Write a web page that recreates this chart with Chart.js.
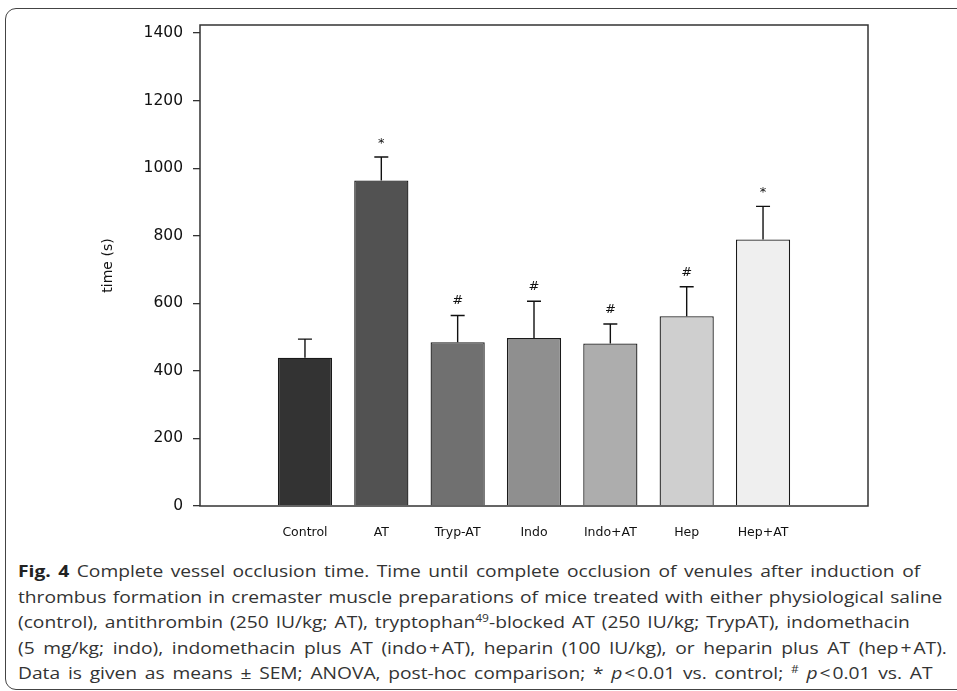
<!DOCTYPE html>
<html>
<head>
<meta charset="utf-8">
<script src="https://cdn.jsdelivr.net/npm/chart.js@4.4.0/dist/chart.umd.min.js"></script>
<style>
  html, body { margin: 0; padding: 0; background: #fff; }
  body { width: 957px; height: 691px; position: relative; overflow: hidden; }
  #frame {
    position: absolute; left: 5px; top: 8px; width: 1000px; height: 682px;
    border: 1.3px solid #444; border-radius: 11px 0 0 11px; box-sizing: border-box;
  }
  #wrap { position: absolute; left: 0; top: 0; width: 957px; height: 545px; }
  #caption {
    position: absolute; left: 18px; top: 559px;
    font-family: "Open Sans", sans-serif; font-size: 16px; line-height: 25.5px; color: #333;
    transform: scaleX(1.2); transform-origin: left top;
  }
  #caption .ln { white-space: nowrap; }
  #caption b { color: #222; }
  #caption sup { font-size: 10px; line-height: 0; vertical-align: 6px; }
</style>
</head>
<body>
<div id="frame"></div>
<div id="wrap"><canvas id="occlusion"></canvas></div>
<div id="caption">
  <div class="ln" data-w="902"><b>Fig. 4</b> Complete vessel occlusion time. Time until complete occlusion of venules after induction of</div>
  <div class="ln" data-w="924">thrombus formation in cremaster muscle preparations of mice treated with either physiological saline</div>
  <div class="ln" data-w="892">(control), antithrombin (250 IU/kg; AT), tryptophan<sup>49</sup>-blocked AT (250 IU/kg; TrypAT), indomethacin</div>
  <div class="ln" data-w="929">(5 mg/kg; indo), indomethacin plus AT (indo&#8202;+&#8202;AT), heparin (100 IU/kg), or heparin plus AT (hep&#8202;+&#8202;AT).</div>
  <div class="ln" data-w="915">Data is given as means ± SEM; ANOVA, post-hoc comparison; * <i>p</i>&#8202;&lt;&#8202;0.01 vs. control; <sup>#</sup> <i>p</i>&#8202;&lt;&#8202;0.01 vs. AT</div>
</div>
<script>
// data
var categories = ['Control', 'AT', 'Tryp-AT', 'Indo', 'Indo+AT', 'Hep', 'Hep+AT'];
var meanTime = [439, 964, 485, 497, 481, 562, 789];
var semTime = [55, 69, 79, 109, 58, 87, 98];
var signif = ['', '*', '#', '#', '#', '#', '*'];
var yTicks = [0, 200, 400, 600, 800, 1000, 1200, 1400];
var barColors = ['#333333', '#525252', '#707070', '#8f8f8f', '#adadad', '#cfcfcf', '#efefef'];

var chartFont = "'DejaVu Sans', sans-serif";

// error bars, markers and the box round the plot
var extras = {
    id: 'extras',
    afterDatasetsDraw: function (chart) {
        var ctx = chart.ctx;
        var x = chart.scales.x, y = chart.scales.y;
        ctx.save();
        ctx.strokeStyle = '#111';
        ctx.lineWidth = 1.4;
        ctx.fillStyle = '#111';
        ctx.font = '13px ' + chartFont;
        ctx.textAlign = 'center';
        ctx.textBaseline = 'alphabetic';
        for (var i = 0; i < meanTime.length; i++) {
            var px = x.getPixelForValue(i);
            var yTop = y.getPixelForValue(meanTime[i]);
            var yCap = y.getPixelForValue(meanTime[i] + semTime[i]);
            ctx.beginPath();
            ctx.moveTo(px, yTop);
            ctx.lineTo(px, yCap);
            ctx.moveTo(px - 7, yCap);
            ctx.lineTo(px + 7, yCap);
            ctx.stroke();
            if (signif[i]) {
                var off = signif[i] === '*' ? 10 : 11;
                ctx.fillText(signif[i], px, yCap - off);
            }
        }
        var a = chart.chartArea;
        ctx.strokeStyle = '#333';
        ctx.lineWidth = 1.5;
        ctx.strokeRect(a.left, a.top, a.right - a.left, a.bottom - a.top);
        ctx.restore();
    }
};

var chartOcc = new Chart(document.getElementById('occlusion'), {
    type: 'bar',
    data: {
        datasets: [{
            data: meanTime.map(function (v, i) { return { x: i, y: v }; }),
            backgroundColor: barColors,
            borderColor: '#1a1a1a',
            borderWidth: 1.3,
            barPercentage: 0.71,
            categoryPercentage: 1
        }]
    },
    options: {
        responsive: true,
        maintainAspectRatio: false,
        animation: false,
        layout: { padding: { left: 0, top: 25, right: 89, bottom: 0 } },
        plugins: { legend: { display: false }, tooltip: { enabled: false } },
        scales: {
            x: {
                type: 'linear',
                min: -1.375,
                max: 7.375,
                offset: false,
                grid: { display: false },
                border: { display: false },
                afterBuildTicks: function (axis) {
                    axis.ticks = categories.map(function (c, i) { return { value: i }; });
                },
                afterFit: function (scale) { scale.height = 39; },
                ticks: {
                    autoSkip: false,
                    maxRotation: 0,
                    padding: 11,
                    color: '#111',
                    font: { family: chartFont, size: 12.5 },
                    callback: function (v) { return categories[v]; }
                }
            },
            y: {
                min: 0,
                max: 1424,
                afterBuildTicks: function (axis) {
                    axis.ticks = yTicks.map(function (v) { return { value: v }; });
                },
                afterFit: function (scale) { scale.width = 200; },
                grid: {
                    drawOnChartArea: false,
                    drawTicks: true,
                    tickLength: 7,
                    color: '#333',
                    lineWidth: 1.3
                },
                border: { display: false },
                ticks: {
                    padding: 10,
                    color: '#111',
                    font: { family: chartFont, size: 15.5 },
                    callback: function (v) { return String(v); }
                },
                title: {
                    display: true,
                    text: 'time (s)',
                    color: '#111',
                    font: { family: chartFont, size: 14 },
                    padding: { top: 100, bottom: 0 }
                }
            }
        }
    },
    plugins: [extras]
});

// caption lines: the original is stretched sideways, then justified
var capScale = 1.2;
document.querySelectorAll('#caption .ln').forEach(function (ln) {
    var target = parseFloat(ln.getAttribute('data-w')) / capScale;
    var spaces = (ln.textContent.match(/ /g) || []).length;
    ln.style.display = 'inline-block';
    var w = ln.offsetWidth;
    ln.style.display = 'block';
    if (spaces > 0) {
        ln.style.wordSpacing = ((target - w) / spaces) + 'px';
    }
});
</script>
</body>
</html>
